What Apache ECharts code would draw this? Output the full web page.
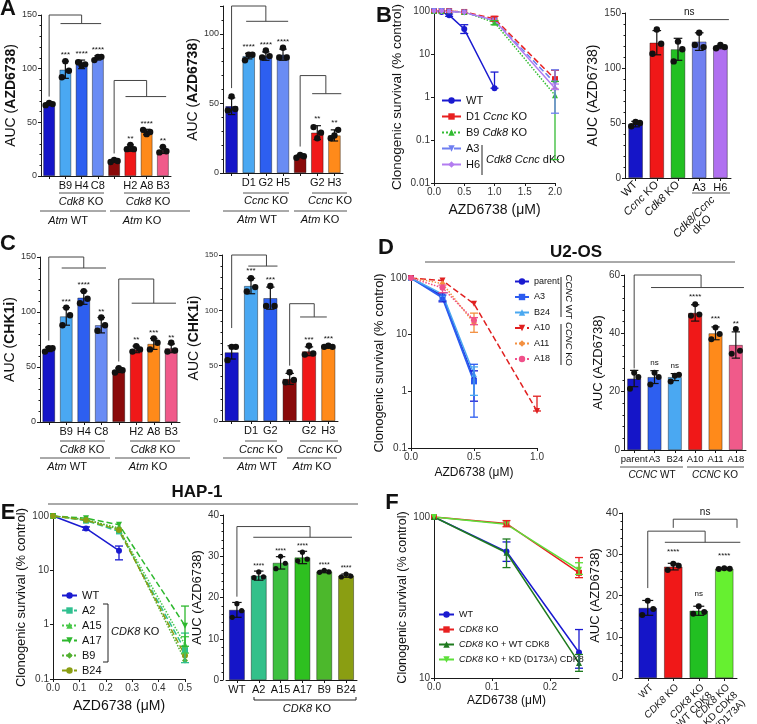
<!DOCTYPE html>
<html><head><meta charset="utf-8">
<script src="https://cdn.jsdelivr.net/npm/echarts@6/dist/echarts.min.js"></script>
<style>html,body{margin:0;padding:0;background:#fff}#c{width:757px;height:724px}</style>
</head><body><div id="c"></div>
<script>
// ================= DATA =================
// Panel A (left) – Atm WT / Atm KO, Cdk8 KO clones
const aL_cats = ['', 'B9', 'H4', 'C8', '', 'H2', 'A8', 'B3'];
const aL_mean = [67, 99, 104, 110, 14, 26, 41, 24];
const aL_sd = [1, 8, 4, 2, 1.2, 3, 2.5, 3];
const aL_reps = [[66,68,67],[92,107,98],[106,103,104],[108,111,111],[13,15,14],[25,29,25],[43,39,41],[22,27,23]];
const aL_stars = ['', '***', '****', '****', '', '**', '****', '**'];
// Panel A (right) – Ccnc KO clones
const aR_cats = ['', 'D1', 'G2', 'H5', '', 'G2', 'H3'];
const aR_mean = [48, 84, 84, 85, 12, 29, 27];
const aR_sd = [6, 2, 3, 4, 1, 5, 4];
const aR_reps = [[45,55,46],[81,85,85],[83,88,84],[83,90,83],[11,13,12],[33,25,29],[25,27,31]];
const aR_stars = ['', '****', '****', '****', '', '**', '**'];
// Panel B (left) – clonogenic survival
const bL_x = [0, 0.125, 0.25, 0.5, 1, 2];
const bL_WT = [100, 95, 80, 38, 1.6, null];
const bL_D1 = [100, 100, 100, 95, 66, 2.6];
const bL_B9 = [100, 100, 98, 95, 54, 1.1];
const bL_A3 = [100, 100, 98, 92, 60, 2.1];
const bL_H6 = [100, 100, 98, 93, 61, 1.6];
const bL_WT_err = [null, null, [75,85], [30,48], [1.6,3.8], null];
const bL_D1_err = [null, null, null, null, [58,75], [1.5,4.2]];
const bL_B9_err = [null, null, null, null, [48,60], [0.035,2.3]];
const bL_A3_err = [null, null, null, null, null, [0.42,4.3]];
const bL_H6_err = [null, null, null, null, null, [1.5,2.0]];
// Panel B (right)
const bR_cats = ['WT', 'Ccnc KO', 'Cdk8 KO', 'A3', 'H6'];
const bR_mean = [49, 123, 117, 124, 119];
const bR_sd = [2.5, 11, 10, 8, 1.5];
const bR_reps = [[47,51,50],[113,135,122],[106,124,117],[121,132,119],[118,121,119]];
const bR_stars = ['', '', '', '', ''];
// Panel C (left) – CHK1i
const cL_cats = ['', 'B9', 'H4', 'C8', '', 'H2', 'A8', 'B3'];
const cL_mean = [66, 96, 113, 88, 47, 66, 71, 67];
const cL_sd = [2, 8, 6, 7, 2, 3, 5, 4];
const cL_reps = [[64,67,67],[88,104,97],[108,119,112],[83,95,88],[45,49,47],[64,69,66],[66,76,72],[64,72,65]];
const cL_stars = ['', '***', '****', '**', '', '**', '***', '**'];
// Panel C (right)
const cR_cats = ['', 'D1', 'G2', '', 'G2', 'H3'];
const cR_mean = [62, 122, 111, 38, 63, 67];
const cR_sd = [6, 7, 10, 5, 4, 1];
const cR_reps = [[55,67,67],[117,129,121],[104,122,104],[35,44,37],[60,68,61],[67,68,67]];
const cR_stars = ['', '***', '***', '', '***', '***'];
// Panel D (left) – U2-OS survival
const dL_x = [0, 0.25, 0.5, 1];
const dL_parent = [100, 48, 1.6, null];
const dL_A3 = [100, 45, 1.5, null];
const dL_B24 = [100, 52, 2.0, null];
const dL_A10 = [100, 90, 35, 0.45];
const dL_A11 = [100, 80, 16, null];
const dL_A18 = [100, 67, 18, null];
const dL_parent_err = [null, [38,55], [0.67,2.3], null];
const dL_A3_err = [null, [40,50], [0.35,3.0], null];
const dL_B24_err = [null, null, [0.85,2.7], null];
const dL_A10_err = [null, null, null, [0.45,0.82]];
const dL_A11_err = [null, null, [11,24], null];
const dL_A18_err = [null, [55,75], [15,20], null];
// Panel D (right)
const dR_cats = ['parent', 'A3', 'B24', 'A10', 'A11', 'A18'];
const dR_mean = [24.5, 25, 25, 47, 40, 36];
const dR_sd = [2.8, 2.2, 1.2, 2.8, 2.2, 4.5];
const dR_reps = [[21,26.5,25],[22.5,26.5,25],[23.5,25.5,25.8],[46,50,46.5],[38,42,39.8],[33,41.5,34]];
const dR_stars = ['', 'ns', 'ns', '****', '***', '**'];
// Panel E (left) – HAP-1 survival
const eL_x = [0, 0.125, 0.25, 0.5];
const eL_WT = [100, 59, 23, null];
const eL_A2 = [100, 82, 52, 0.34];
const eL_A15 = [100, 87, 57, 0.43];
const eL_A17 = [100, 91, 69, 0.96];
const eL_B9 = [100, 85, 60, 0.22];
const eL_B24 = [100, 84, 55, 0.27];
const eL_WT_err = [null, [55,63], [15.6,28], null];
const eL_A2_err = [null, null, null, [0.2,0.7]];
const eL_A15_err = [null, null, null, [0.3,0.6]];
const eL_A17_err = [null, null, null, [0.4,2.2]];
// Panel E (right)
const eR_cats = ['WT', 'A2', 'A15', 'A17', 'B9', 'B24'];
const eR_mean = [17, 25.3, 28.4, 29.7, 26.3, 25.3];
const eR_sd = [1.8, 1.1, 1.5, 1.5, 0.3, 0.4];
const eR_reps = [[15.2,18.5,16.8],[24.8,26.2,25],[27,30,28.3],[28.9,31,29.3],[26.1,26.6,26.2],[25,25.7,25.2]];
const eR_stars = ['', '****', '****', '****', '****', '****'];
// Panel F (left)
const fL_x = [0, 0.125, 0.25];
const fL_WT = [100, 61, 14.4];
const fL_KO = [100, 91, 45];
const fL_WTC = [100, 60, 12.4];
const fL_KD = [100, 90, 47];
const fL_WT_err = [null, [53,70], [11.5,20]];
const fL_KO_err = [null, [87,95], [42,56]];
const fL_WTC_err = [null, [48.5,73], [11,14]];
const fL_KD_err = [null, null, [44,52]];
// Panel F (right)
const fR_cats = ['WT', 'CDK8 KO', 'CDK8 KO + WT CDK8', 'CDK8 KO + KD (D173A) CDK8'];
const fR_mean = [17, 27, 16.3, 26.5];
const fR_sd = [1.8, 0.8, 1.1, 0.2];
const fR_reps = [[15.3,18.7,16.7],[26.2,27.7,27.2],[15.6,17.4,16],[26.4,26.6,26.5]];
const fR_stars = ['', '****', 'ns', '****'];

// ================= STYLE / BUILD =================
const FONT = '"Liberation Sans", Arial, Helvetica, sans-serif';
const AXC = '#1a1a1a', LBL = '#333';
const BLUE = '#1515c8', SKY = '#4aa8f2', MBLUE = '#2d5ff0', PERI = '#6a8cf4', DRED = '#8a0a0a', RED = '#f01818', ORG = '#ff8a1a', PINK = '#f05a8a';
const grids = [], xAxes = [], yAxes = [], series = [], legends = [], graphics = [];

function richName(sz) {
  return { n: {fontSize: sz, fontFamily: FONT, color: '#111'}, b: {fontSize: sz, fontFamily: FONT, color: '#111', fontWeight: 'bold'} };
}
const richLbl = (sz) => ({ n: {fontSize: sz, fontFamily: FONT, color: '#111'}, i: {fontSize: sz, fontFamily: FONT, color: '#111', fontStyle: 'italic'} });

function addBarPanel(p) {
  const gi = grids.length, xi = xAxes.length, yi = yAxes.length;
  grids.push({left: p.left, top: p.top, width: p.width, height: p.height, containLabel: false, outerBoundsMode: 'none'});
  xAxes.push({gridIndex: gi, type: 'category', data: p.cats, position: 'bottom',
    axisLine: {lineStyle: {color: AXC, width: 1}},
    axisTick: {show: true, alignWithLabel: true, length: 3, lineStyle: {color: AXC}},
    axisLabel: Object.assign({interval: 0, fontSize: p.xFont || 10, color: '#111', fontFamily: FONT, margin: 4}, p.xLabel || {})});
  if (p.extraX) xAxes.push(Object.assign({gridIndex: gi, type: 'category', data: p.cats, position: 'bottom',
    axisLine: {show: false}, axisTick: {show: false}}, p.extraX));
  yAxes.push({gridIndex: gi, type: 'value', min: 0, max: p.max, interval: p.interval, offset: p.yOffset || 0,
    splitLine: {show: false},
    axisLine: {show: true, lineStyle: {color: AXC, width: 1}},
    axisTick: {show: true, length: 3, lineStyle: {color: AXC}},
    minorTick: {show: true, splitNumber: p.minorSplit || 5, length: 1.5, lineStyle: {color: AXC}},
    axisLabel: {fontSize: p.tickFont || 9, color: LBL, fontFamily: FONT, margin: 4, showMaxLabel: p.showMax !== false},
    name: p.yName, nameLocation: 'middle', nameRotate: 90, nameGap: p.nameGap,
    nameTextStyle: {rich: richName(p.nameSize || 13)}});
  series.push({type: 'bar', xAxisIndex: xi, yAxisIndex: yi, barWidth: (p.barW * 100) + '%', silent: true, animation: false,
    data: p.mean.map((v, i) => ({value: v, itemStyle: {color: p.colors[i]}})),
    itemStyle: {borderColor: 'rgba(0,0,0,0.55)', borderWidth: 0.7}});
  series.push({type: 'custom', xAxisIndex: xi, yAxisIndex: yi, silent: true, animation: false, z: 5,
    data: p.mean.map((m, i) => [i, m, p.sd[i]]),
    renderItem: function (params, api) {
      const i = api.value(0), m = api.value(1), sd = api.value(2);
      const bw = api.size([1, 0])[0];
      const c = api.coord([i, m]);
      const t = api.coord([i, m + sd]), b = api.coord([i, Math.max(0, m - sd)]);
      const cap = bw * p.barW * 0.3;
      const ls = {stroke: '#111', lineWidth: 1.2};
      const ch = [
        {type: 'line', shape: {x1: c[0], y1: t[1], x2: c[0], y2: b[1]}, style: ls},
        {type: 'line', shape: {x1: c[0] - cap, y1: t[1], x2: c[0] + cap, y2: t[1]}, style: ls},
        {type: 'line', shape: {x1: c[0] - cap, y1: b[1], x2: c[0] + cap, y2: b[1]}, style: ls}
      ];
      p.reps[params.dataIndex].forEach((r, k) => {
        const q = api.coord([i, r]);
        ch.push({type: 'circle', shape: {cx: q[0] + (k - 1) * bw * p.barW * 0.3, cy: q[1], r: p.dotR || 3.2}, style: {fill: '#111'}});
      });
      const st = p.stars[params.dataIndex];
      if (st) ch.push({type: 'text', style: {text: st, x: c[0], y: t[1] - (p.starGap || 2), align: 'center', verticalAlign: 'bottom',
        textAlign: 'center', textVerticalAlign: 'bottom', fontSize: p.starFont || 8, fontFamily: FONT, fill: '#111'}});
      return {type: 'group', children: ch};
    }});
  if (p.brackets) series.push({type: 'custom', xAxisIndex: xi, yAxisIndex: yi, silent: true, animation: false, z: 4,
    data: [[0, 0]],
    renderItem: function (params, api) {
      const bw = api.size([1, 0])[0];
      const P = (pos, y) => { const c = api.coord([0, y]); return [c[0] + pos * bw, c[1]]; };
      const ls = {stroke: '#444', lineWidth: 1, fill: null};
      const ch = [];
      const txt = (x, y, s) => ch.push({type: 'text', style: {text: s, x: x, y: y, align: 'center', verticalAlign: 'bottom',
        textAlign: 'center', textVerticalAlign: 'bottom', fontSize: 10, fontFamily: FONT, fill: '#111'}});
      p.brackets.forEach(b => {
        if (b.kind === 'ctl') {
          ch.push({type: 'polyline', shape: {points: [P(b.x, b.from), P(b.x, b.top), P(b.mid, b.top), P(b.mid, b.drop)]}, style: ls});
          const a = P(b.span[0], b.drop), e = P(b.span[1], b.drop);
          ch.push({type: 'line', shape: {x1: a[0], y1: a[1], x2: e[0], y2: e[1]}, style: ls});
        } else if (b.kind === 'line') {
          const a = P(b.span[0], b.y), e = P(b.span[1], b.y);
          ch.push({type: 'line', shape: {x1: a[0], y1: a[1], x2: e[0], y2: e[1]}, style: ls});
          if (b.text) txt((a[0] + e[0]) / 2, a[1] - 2, b.text);
        } else if (b.kind === 'cap') {
          const pts = [P(b.span[0], b.end), P(b.span[0], b.top), P(b.span[1], b.top), P(b.span[1], b.end)];
          ch.push({type: 'polyline', shape: {points: pts}, style: ls});
          if (b.text) txt((pts[1][0] + pts[2][0]) / 2, pts[1][1] - 2, b.text);
        }
      });
      return {type: 'group', children: ch};
    }});
}

function addLinePanel(p) {
  const gi = grids.length, xi = xAxes.length, yi = yAxes.length;
  grids.push({left: p.left, top: p.top, width: p.width, height: p.height, containLabel: false, outerBoundsMode: 'none'});
  xAxes.push({gridIndex: gi, type: 'value', min: p.xmin, max: p.xmax, interval: p.xint, splitLine: {show: false},
    axisLine: {lineStyle: {color: AXC}}, axisTick: {length: 3, lineStyle: {color: AXC}},
    axisLabel: {formatter: v => v.toFixed(1), fontSize: p.tickFont || 10, color: LBL, fontFamily: FONT, margin: 4, showMaxLabel: p.showMaxX !== false},
    name: 'AZD6738 (μM)', nameLocation: 'middle', nameGap: p.xNameGap,
    nameTextStyle: {fontSize: p.xNameSize || 13, fontFamily: FONT, color: '#111'}});
  yAxes.push({gridIndex: gi, type: 'log', logBase: 10, min: p.ymin, max: p.ymax, splitLine: {show: false},
    axisLine: {show: true, lineStyle: {color: AXC}}, axisTick: {show: true, length: 3, lineStyle: {color: AXC}},
    axisLabel: {formatter: v => String(+(+v).toPrecision(3)), fontSize: p.tickFont || 10, color: LBL, fontFamily: FONT, margin: 4},
    name: 'Clonogenic survival (% control)', nameLocation: 'middle', nameRotate: 90, nameGap: p.yNameGap,
    nameTextStyle: {fontSize: p.yNameSize || 13, fontFamily: FONT, color: '#111'}});
  const names = [], labelMap = {};
  p.series.forEach(s => {
    const nm = p.key + ':' + s.name;
    names.push(nm); labelMap[nm] = s.label;
    series.push({type: 'line', name: nm, xAxisIndex: xi, yAxisIndex: yi, animation: false, silent: true, z: 3,
      data: p.x.map((x, i) => [x, s.y[i]]).filter(d => d[1] != null),
      symbol: s.symbol, symbolSize: s.size || 6, symbolRotate: s.rot || 0,
      lineStyle: {color: s.color, width: s.width || 1.5, type: s.type || 'solid'}, itemStyle: {color: s.color}});
    if (s.err) {
      const ed = p.x.map((x, i) => s.err[i] ? [x, s.err[i][0], s.err[i][1]] : null).filter(Boolean);
      series.push({type: 'custom', xAxisIndex: xi, yAxisIndex: yi, silent: true, animation: false, z: 4, data: ed,
        renderItem: function (params, api) {
          const a = api.coord([api.value(0), api.value(1)]), b = api.coord([api.value(0), api.value(2)]);
          const ls = {stroke: s.color, lineWidth: 1.3};
          return {type: 'group', children: [
            {type: 'line', shape: {x1: a[0], y1: a[1], x2: b[0], y2: b[1]}, style: ls},
            {type: 'line', shape: {x1: a[0] - 4, y1: a[1], x2: a[0] + 4, y2: a[1]}, style: ls},
            {type: 'line', shape: {x1: b[0] - 4, y1: b[1], x2: b[0] + 4, y2: b[1]}, style: ls}]};
        }});
    }
  });
  legends.push(Object.assign({data: names, orient: 'vertical', selectedMode: false, itemWidth: 18, itemHeight: 8, padding: 0,
    formatter: n => labelMap[n], textStyle: {rich: richLbl(p.legendFont || 11), fontSize: p.legendFont || 11, fontFamily: FONT}}, p.legend));
}

// ---- Panel A ----
addBarPanel({left: 41, top: 15, width: 130, height: 161, cats: aL_cats, mean: aL_mean, sd: aL_sd, reps: aL_reps, stars: aL_stars,
  colors: [BLUE, SKY, MBLUE, PERI, DRED, RED, ORG, PINK], max: 150, interval: 50, barW: 0.72, starGap: 2,
  yName: '{n|AUC (}{b|AZD6738}{n|)}', nameGap: 22, nameSize: 14, xFont: 11,
  brackets: [{kind: 'ctl', x: 0, from: 74, top: 150, mid: 2, drop: 142, span: [0.7, 3.2]},
             {kind: 'ctl', x: 4, from: 21, top: 89, mid: 6, drop: 74, span: [4.7, 7.2]}]});
addBarPanel({left: 223, top: 6, width: 120, height: 167, cats: aR_cats, mean: aR_mean, sd: aR_sd, reps: aR_reps, stars: aR_stars,
  colors: [BLUE, SKY, MBLUE, PERI, DRED, RED, ORG], max: 120, interval: 50, showMax: false, barW: 0.72, starGap: 3,
  yName: '{n|AUC (}{b|AZD6738}{n|)}', nameGap: 19, nameSize: 14, xFont: 11,
  brackets: [{kind: 'ctl', x: 0, from: 61, top: 120, mid: 2, drop: 109, span: [0.85, 3.3]},
             {kind: 'ctl', x: 4, from: 19, top: 70, mid: 5.5, drop: 57, span: [4.7, 6.4]}]});
// ---- Panel B ----
addLinePanel({key: 'B', left: 434, top: 11, width: 121, height: 172, x: bL_x, xmin: 0, xmax: 2, xint: 0.5, ymin: 0.01, ymax: 100,
  xNameGap: 20, yNameGap: 30, xNameSize: 14, yNameSize: 13.5, tickFont: 10,
  legend: {left: 441, top: 95, itemGap: 5, itemWidth: 19},
  series: [
    {name: 'WT', label: '{n|WT}', y: bL_WT, err: bL_WT_err, color: '#1a1ad0', symbol: 'circle'},
    {name: 'D1', label: '{n|D1 }{i|Ccnc}{n| KO}', y: bL_D1, err: bL_D1_err, color: '#e82020', symbol: 'rect', type: 'dashed'},
    {name: 'B9', label: '{n|B9 }{i|Cdk8}{n| KO}', y: bL_B9, err: bL_B9_err, color: '#33bb33', symbol: 'triangle', type: 'dotted'},
    {name: 'A3', label: '{n|A3}', y: bL_A3, err: bL_A3_err, color: '#6f7ff0', symbol: 'triangle', rot: 180, type: 'dashed'},
    {name: 'H6', label: '{n|H6}', y: bL_H6, err: bL_H6_err, color: '#b37cf0', symbol: 'diamond'}]});
addBarPanel({left: 625, top: 13, width: 106, height: 165, cats: bR_cats, mean: bR_mean, sd: bR_sd, reps: bR_reps, stars: bR_stars,
  colors: [BLUE, RED, '#22c022', '#7080f0', '#b070f0'], max: 150, interval: 50, barW: 0.68, tickFont: 10,
  yName: '{n|AUC (AZD6738)}', nameGap: 25, nameSize: 14,
  xLabel: {rotate: 45, fontSize: 11, margin: 5, formatter: (v, i) => i === 0 ? '{n|WT}' : i === 1 ? '{i|Ccnc}{n| KO}' : i === 2 ? '{i|Cdk8}{n| KO}' : '', rich: richLbl(11)},
  extraX: {axisLabel: {interval: 0, fontSize: 11, color: '#111', fontFamily: FONT, margin: 4, formatter: (v, i) => i >= 3 ? v : ''}},
  brackets: [{kind: 'line', span: [0.66, 4.4], y: 144, text: 'ns'}]});
// ---- Panel C ----
addBarPanel({left: 40, top: 257, width: 140, height: 165, cats: cL_cats, mean: cL_mean, sd: cL_sd, reps: cL_reps, stars: cL_stars,
  colors: [BLUE, SKY, MBLUE, PERI, DRED, RED, ORG, PINK], max: 150, interval: 50, barW: 0.72, starGap: 2,
  yName: '{n|AUC (}{b|CHK1i}{n|)}', nameGap: 21, nameSize: 14, xFont: 11,
  brackets: [{kind: 'ctl', x: 0, from: 74, top: 150, mid: 2, drop: 140, span: [0.74, 3.27]},
             {kind: 'ctl', x: 4, from: 55, top: 130, mid: 6, drop: 108, span: [4.74, 7.27]}]});
addBarPanel({left: 222, top: 255, width: 116, height: 166, cats: cR_cats, mean: cR_mean, sd: cR_sd, reps: cR_reps, stars: cR_stars,
  colors: [BLUE, SKY, MBLUE, DRED, RED, ORG], max: 150, interval: 50, barW: 0.72, starGap: 3, tickFont: 8,
  yName: '{n|AUC (}{b|CHK1i}{n|)}', nameGap: 15, nameSize: 14, xFont: 11,
  brackets: [{kind: 'ctl', x: 0, from: 84, top: 150, mid: 1.8, drop: 140, span: [0.86, 2.37]},
             {kind: 'ctl', x: 3, from: 50, top: 106, mid: 4.27, drop: 94, span: [3.54, 4.92]}]});
// ---- Panel D ----
addLinePanel({key: 'D', left: 411, top: 278, width: 126, height: 170, x: dL_x, xmin: 0, xmax: 1, xint: 0.5, ymin: 0.1, ymax: 100,
  xNameGap: 19, yNameGap: 17, xNameSize: 12, yNameSize: 13, tickFont: 10, legendFont: 9,
  legend: {left: 514, top: 277, itemGap: 6.5, itemWidth: 14},
  series: [
    {name: 'parent', label: '{n|parent}', y: dL_parent, err: dL_parent_err, color: '#1a1ad0', symbol: 'circle', width: 2},
    {name: 'A3', label: '{n|A3}', y: dL_A3, err: dL_A3_err, color: '#2c5cf0', symbol: 'rect', width: 2},
    {name: 'B24', label: '{n|B24}', y: dL_B24, err: dL_B24_err, color: '#4aa8f0', symbol: 'triangle', width: 1.5},
    {name: 'A10', label: '{n|A10}', y: dL_A10, err: dL_A10_err, color: '#e02020', symbol: 'triangle', rot: 180, type: 'dashed'},
    {name: 'A11', label: '{n|A11}', y: dL_A11, err: dL_A11_err, color: '#f39040', symbol: 'diamond', type: 'dotted'},
    {name: 'A18', label: '{n|A18}', y: dL_A18, err: dL_A18_err, color: '#f0508a', symbol: 'circle', type: 'dotted'}]});
addBarPanel({left: 624, top: 275, width: 122, height: 175, cats: dR_cats, mean: dR_mean, sd: dR_sd, reps: dR_reps, stars: dR_stars,
  colors: [BLUE, MBLUE, SKY, RED, ORG, PINK], max: 60, interval: 20, barW: 0.68, starGap: 4, tickFont: 10, dotR: 3,
  yName: '{n|AUC (AZD6738)}', nameGap: 14, nameSize: 13, xFont: 9.5,
  brackets: [{kind: 'ctl', x: 0, from: 28, top: 60, mid: 3.29, drop: 55.7, span: [0.83, 5.4]}]});
// ---- Panel E ----
addLinePanel({key: 'E', left: 53, top: 516, width: 132, height: 163, x: eL_x, xmin: 0, xmax: 0.5, xint: 0.1, ymin: 0.1, ymax: 100,
  xNameGap: 20, yNameGap: 21, xNameSize: 14, yNameSize: 13, tickFont: 10, legendFont: 11,
  legend: {left: 61, top: 590, itemGap: 4, itemWidth: 15},
  series: [
    {name: 'WT', label: '{n|WT}', y: eL_WT, err: eL_WT_err, color: '#1a1ad0', symbol: 'circle'},
    {name: 'A2', label: '{n|A2}', y: eL_A2, err: eL_A2_err, color: '#30c090', symbol: 'rect', type: 'dashed'},
    {name: 'A15', label: '{n|A15}', y: eL_A15, err: eL_A15_err, color: '#48c848', symbol: 'triangle', type: 'dotted'},
    {name: 'A17', label: '{n|A17}', y: eL_A17, err: eL_A17_err, color: '#2eb82e', symbol: 'triangle', rot: 180, type: 'dashed'},
    {name: 'B9', label: '{n|B9}', y: eL_B9, color: '#52b030', symbol: 'diamond', type: 'dotted'},
    {name: 'B24', label: '{n|B24}', y: eL_B24, color: '#8a9e12', symbol: 'circle', type: 'dashed'}]});
addBarPanel({left: 226, top: 515, width: 131, height: 165, cats: eR_cats, mean: eR_mean, sd: eR_sd, reps: eR_reps, stars: eR_stars,
  colors: [BLUE, '#33c08a', '#3ec040', '#2ec020', '#4cb82c', '#8a9e12'], max: 40, interval: 10, barW: 0.72, starGap: 2, tickFont: 10,
  dotR: 2.6, starFont: 7, yOffset: 3,
  yName: '{n|AUC (AZD6738)}', nameGap: 14, nameSize: 13, xFont: 11,
  brackets: [{kind: 'ctl', x: 0, from: 20.2, top: 37.2, mid: 3.35, drop: 34.6, span: [0.75, 5.27]}]});
// ---- Panel F ----
addLinePanel({key: 'F', left: 434, top: 517, width: 145, height: 161, x: fL_x, xmin: 0, xmax: 0.25, xint: 0.1, showMaxX: false,
  ymin: 10, ymax: 100, xNameGap: 17, yNameGap: 20, xNameSize: 12, yNameSize: 12.5, tickFont: 10, legendFont: 9,
  legend: {left: 438, top: 610, itemGap: 6, itemWidth: 15},
  series: [
    {name: 'WT', label: '{n|WT}', y: fL_WT, err: fL_WT_err, color: '#1a1ad0', symbol: 'circle'},
    {name: 'KO', label: '{i|CDK8}{n| KO}', y: fL_KO, err: fL_KO_err, color: '#e82020', symbol: 'rect'},
    {name: 'WTC', label: '{i|CDK8}{n| KO + WT CDK8}', y: fL_WTC, err: fL_WTC_err, color: '#1f7a1f', symbol: 'triangle'},
    {name: 'KD', label: '{i|CDK8}{n| KO + KD (D173A) CDK8}', y: fL_KD, err: fL_KD_err, color: '#5de03a', symbol: 'triangle', rot: 180}]});
addBarPanel({left: 635, top: 513, width: 102, height: 165, cats: fR_cats, mean: fR_mean, sd: fR_sd, reps: fR_reps, stars: fR_stars,
  colors: [BLUE, RED, '#22c022', '#66f030'], max: 40, interval: 10, barW: 0.72, starGap: 8, tickFont: 11, dotR: 3, yOffset: 13,
  yName: '{n|AUC (AZD6738)}', nameGap: 13, nameSize: 13,
  xLabel: {rotate: 45, fontSize: 10, margin: 4, rich: richLbl(10), lineHeight: 11, verticalAlign: 'top',
    formatter: (v, i) => ['{n|WT}', '{i|CDK8}{n| KO}', '{i|CDK8}{n| KO}\n{n|+ WT CDK8}', '{i|CDK8}{n| KO}\n{n|+ KD CDK8}\n{n|(D173A)}'][i]},
  brackets: [{kind: 'ctl', x: 0, from: 21.8, top: 35.6, mid: 2.25, drop: 32.9, span: [0.67, 3.63]},
             {kind: 'cap', span: [1, 3.5], top: 38.5, end: 36.4, text: 'ns'}]});

// ---- annotations (text, group lines) ----
function gLine(x1, y1, x2, y2, c) { graphics.push({type: 'line', silent: true, shape: {x1, y1, x2, y2}, style: {stroke: c || '#555', lineWidth: 1}}); }
function gPoly(pts) { graphics.push({type: 'polyline', silent: true, shape: {points: pts}, style: {stroke: '#222', lineWidth: 1, fill: null}}); }
function gText(x, y, text, o) {
  o = o || {};
  const sz = o.size || 11;
  graphics.push({type: 'text', silent: true, x, y, rotation: o.rot || 0, style: {text, x: 0, y: 0,
    align: o.align || 'center', verticalAlign: 'middle', textAlign: o.align || 'center', textVerticalAlign: 'middle',
    fontSize: sz, fontWeight: o.bold ? 'bold' : 'normal', fontFamily: FONT, fill: '#111', rich: richLbl(sz)}});
}
// panel letters
[['A', 8, 9], ['B', 384, 16], ['C', 8, 244], ['D', 386, 248], ['E', 8, 513], ['F', 392, 503]].forEach(l => gText(l[1], l[2], l[0], {size: 22, bold: true}));
// titles
gText(576, 252, 'U2-OS', {size: 17, bold: true}); gLine(425, 262, 735, 262);
gText(197, 492, 'HAP-1', {size: 17, bold: true}); gLine(48, 504, 358, 504);
// A left groups
gLine(59, 193, 104, 193); gText(81, 202, '{i|Cdk8}{n| KO}');
gLine(124, 193, 170, 193); gText(148, 202, '{i|Cdk8}{n| KO}');
gLine(40, 211, 106, 211); gText(68, 221, '{i|Atm}{n| WT}');
gLine(110, 211, 190, 211); gText(142, 221, '{i|Atm}{n| KO}');
// A right groups
gLine(243, 193, 289, 193); gText(266, 201, '{i|Ccnc}{n| KO}');
gLine(312, 193, 347, 193); gText(330, 201, '{i|Ccnc}{n| KO}');
gLine(223, 211, 289, 211); gText(257, 220, '{i|Atm}{n| WT}');
gLine(294, 211, 347, 211); gText(320, 220, '{i|Atm}{n| KO}');
// B left legend bracket
gLine(482, 145, 482, 175, '#222'); gText(486, 160, '{i|Cdk8 Ccnc}{n| dKO}', {align: 'left'});
// B right dKO label
gLine(692, 193, 730, 193); gText(698, 221, '{i|Cdk8/Ccnc}\n{n|dKO}', {rot: Math.PI / 4});
// C left groups
gLine(60, 441, 105, 441); gText(82, 450, '{i|Cdk8}{n| KO}');
gLine(130, 441, 180, 441); gText(153, 450, '{i|Cdk8}{n| KO}');
gLine(40, 458, 110, 458); gText(67, 467, '{i|Atm}{n| WT}');
gLine(115, 458, 190, 458); gText(148, 467, '{i|Atm}{n| KO}');
// C right groups
gLine(245, 441, 277, 441); gText(261, 450, '{i|Ccnc}{n| KO}');
gLine(300, 441, 338, 441); gText(320, 450, '{i|Ccnc}{n| KO}');
gLine(223, 458, 277, 458); gText(257, 467, '{i|Atm}{n| WT}');
gLine(287, 458, 337, 458); gText(312, 467, '{i|Atm}{n| KO}');
// D left legend groups
gLine(561, 277, 561, 317, '#222'); gText(569, 297, '{i|CCNC}{n| WT}', {rot: -Math.PI / 2, size: 9.5});
gLine(561, 324, 561, 365, '#222'); gText(569, 344, '{i|CCNC}{n| KO}', {rot: -Math.PI / 2, size: 9.5});
// D right groups
gLine(620, 467, 683, 467); gText(652, 475, '{i|CCNC}{n| WT}', {size: 10});
gLine(687, 467, 744, 467); gText(715, 475, '{i|CCNC}{n| KO}', {size: 10});
// E left legend bracket
gPoly([[103, 604], [108, 604], [108, 662], [103, 662]]); gText(111, 632, '{i|CDK8}{n| KO}', {align: 'left'});
// E right bracket
gPoly([[254, 697], [254, 700], [356, 700], [356, 697]]); gText(307, 709, '{i|CDK8}{n| KO}');

const chart = echarts.init(document.getElementById('c'), null, {renderer: 'canvas'});
chart.setOption({
  animation: false, backgroundColor: '#fff',
  textStyle: {fontFamily: FONT},
  grid: grids, xAxis: xAxes, yAxis: yAxes, series: series, legend: legends, graphic: graphics
});
</script></body></html>
